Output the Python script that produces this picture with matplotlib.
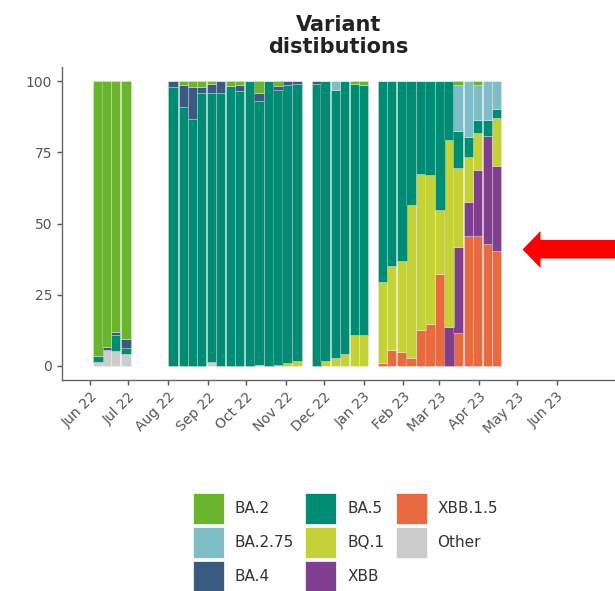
import matplotlib
matplotlib.use("Agg")
import matplotlib.pyplot as plt
import matplotlib.dates as mdates
from matplotlib.patches import Patch, Polygon
import numpy as np
import pandas as pd

# weekly sample dates (bar centres)
dates = ["2022-06-07", "2022-06-14", "2022-06-21", "2022-06-29",
         "2022-08-05", "2022-08-13", "2022-08-20", "2022-08-27", "2022-09-04", "2022-09-11",
         "2022-09-19", "2022-09-26", "2022-10-04", "2022-10-11", "2022-10-19", "2022-10-26",
         "2022-11-02", "2022-11-10",
         "2022-11-25", "2022-12-02", "2022-12-10", "2022-12-17", "2022-12-25", "2023-01-01",
         "2023-01-16", "2023-01-23", "2023-01-31", "2023-02-07", "2023-02-15", "2023-02-22",
         "2023-03-02", "2023-03-09", "2023-03-16", "2023-03-24", "2023-03-31", "2023-04-08",
         "2023-04-15"]

ba2 = [96.7, 93.4, 88.3, 90.7,
       0, 1.2, 2.0, 2.0, 0.8, 0, 1.8, 1.2, 0, 4.1, 0, 1.8, 0, 0,
       0, 0, 0, 0, 0.8, 1.5,
       0, 0, 0, 0, 0, 0, 0, 0, 1.2, 0, 1.2, 0, 0]
ba275 = [0, 0, 0, 0,
         0, 0, 0, 0, 0, 0, 0, 0, 0, 0, 0, 0, 0, 0,
         0, 0, 3.2, 0, 0, 0,
         0, 0, 0, 0, 0, 0, 0, 0, 16.4, 19.6, 12.3, 13.5, 9.7]
ba4 = [0, 0.9, 0.8, 2.9,
       2.0, 7.8, 11.2, 2.1, 3.3, 4.1, 0, 2.3, 0, 2.9, 0, 1.4, 1.2, 0.8,
       1.0, 0, 0, 0, 0, 0,
       0, 0, 0, 0, 0, 0, 0, 0, 0, 0, 0, 0, 0]
ba5 = [1.8, 0, 5.6, 2.3,
       98.0, 91.0, 86.8, 95.9, 94.7, 95.9, 98.2, 96.5, 100, 92.7, 100, 96.5, 97.8, 97.6,
       99.0, 98.2, 94.1, 95.9, 88.4, 87.7,
       70.6, 65.0, 63.3, 43.6, 32.7, 32.8, 45.1, 20.7, 12.9, 7.0, 4.7, 5.8, 3.2]
bq1 = [0, 0, 0, 0,
       0, 0, 0, 0, 0, 0, 0, 0, 0, 0, 0, 0.3, 1.0, 1.6,
       0, 1.8, 2.7, 4.1, 10.8, 10.8,
       28.5, 29.4, 31.9, 53.6, 54.9, 52.4, 22.8, 65.7, 27.8, 15.9, 13.1, 0, 16.9]
xbb = [0, 0, 0, 0,
       0, 0, 0, 0, 0, 0, 0, 0, 0, 0, 0, 0, 0, 0,
       0, 0, 0, 0, 0, 0,
       0, 0, 0, 0, 0, 0, 0, 13.6, 30.2, 12.0, 23.2, 37.8, 29.9]
xbb15 = [0, 0, 0, 0,
         0, 0, 0, 0, 0, 0, 0, 0, 0, 0, 0, 0, 0, 0,
         0, 0, 0, 0, 0, 0,
         0.9, 5.6, 4.8, 2.8, 12.4, 14.8, 32.1, 0, 11.5, 45.5, 45.5, 42.9, 40.3]
other = [1.5, 5.7, 5.3, 4.1,
         0, 0, 0, 0, 1.2, 0, 0, 0, 0, 0.3, 0, 0, 0, 0,
         0, 0, 0, 0, 0, 0,
         0, 0, 0, 0, 0, 0, 0, 0, 0, 0, 0, 0, 0]

# month ticks shown on the x axis
tick_months = pd.date_range("2022-06-01", "2023-06-01", freq="MS")

legend_order = ["BA.2", "BA.2.75", "BA.4", "BA.5", "BQ.1", "XBB", "XBB.1.5", "Other"]
series = {"BA.2": ba2, "BA.2.75": ba275, "BA.4": ba4, "BA.5": ba5,
          "BQ.1": bq1, "XBB": xbb, "XBB.1.5": xbb15, "Other": other}
colors = {"BA.2": "#6ab42e", "BA.2.75": "#7fbec6", "BA.4": "#3b5a82", "BA.5": "#008c74",
          "BQ.1": "#c4d137", "XBB": "#7f3f8e", "XBB.1.5": "#e86a40", "Other": "#cccccc"}

W, H = 615, 591
fig = plt.figure(figsize=(W / 100, H / 100), dpi=100)
ax = fig.add_axes([62 / W, 1 - 380 / H, (614 - 62) / W, (380 - 67) / H])

x = pd.to_datetime(dates)
bottom = np.zeros(len(dates))
for name in legend_order[::-1]:
    vals = np.array(series[name])
    ax.bar(x, vals, width=7.45, bottom=bottom, color=colors[name],
           edgecolor=(1, 1, 1, 0.35), linewidth=0.5)
    bottom += vals

ax.set_ylim(-5, 105)
ax.set_yticks([0, 25, 50, 75, 100])
ax.set_xlim(pd.Timestamp("2022-05-10"), pd.Timestamp("2023-07-16"))
ax.set_xticks(tick_months)
ax.xaxis.set_major_formatter(mdates.DateFormatter("%b %y"))

for s in ["top", "right"]:
    ax.spines[s].set_visible(False)
for s in ["left", "bottom"]:
    ax.spines[s].set_color("#666666")
    ax.spines[s].set_linewidth(1.0)
ax.tick_params(axis="both", colors="#555555", labelcolor="#555555", labelsize=10,
               length=3.5, width=1.0)
plt.setp(ax.get_xticklabels(), rotation=45, ha="right", rotation_mode="anchor")

fig.text(338.5 / W, 1 - 15 / H, "Variant\ndistibutions", ha="center", va="top",
         fontsize=15, fontweight="bold", color="#222222", linespacing=1.1)

handles = [Patch(facecolor=colors[n], edgecolor="white", linewidth=0.5) for n in legend_order]
fig.legend(handles, legend_order, ncol=3, loc="upper left",
           bbox_to_anchor=(193 / W, 1 - 493 / H), bbox_transform=fig.transFigure,
           frameon=False, fontsize=11, handlelength=2.03, handleheight=2.75,
           labelspacing=0.2, handletextpad=0.7, columnspacing=0.75, borderpad=0,
           borderaxespad=0, labelcolor="#333333")

# red arrow annotation
pts = [(522.5, 249.5), (540.5, 231), (540.5, 240), (616, 240),
       (616, 258.5), (540.5, 258.5), (540.5, 268)]
pts = [(px / 100, (H - py) / 100) for px, py in pts]
fig.add_artist(Polygon(pts, closed=True, facecolor="#ff0000", edgecolor="none",
                       transform=fig.dpi_scale_trans))

fig.savefig("out.png", dpi=100)
